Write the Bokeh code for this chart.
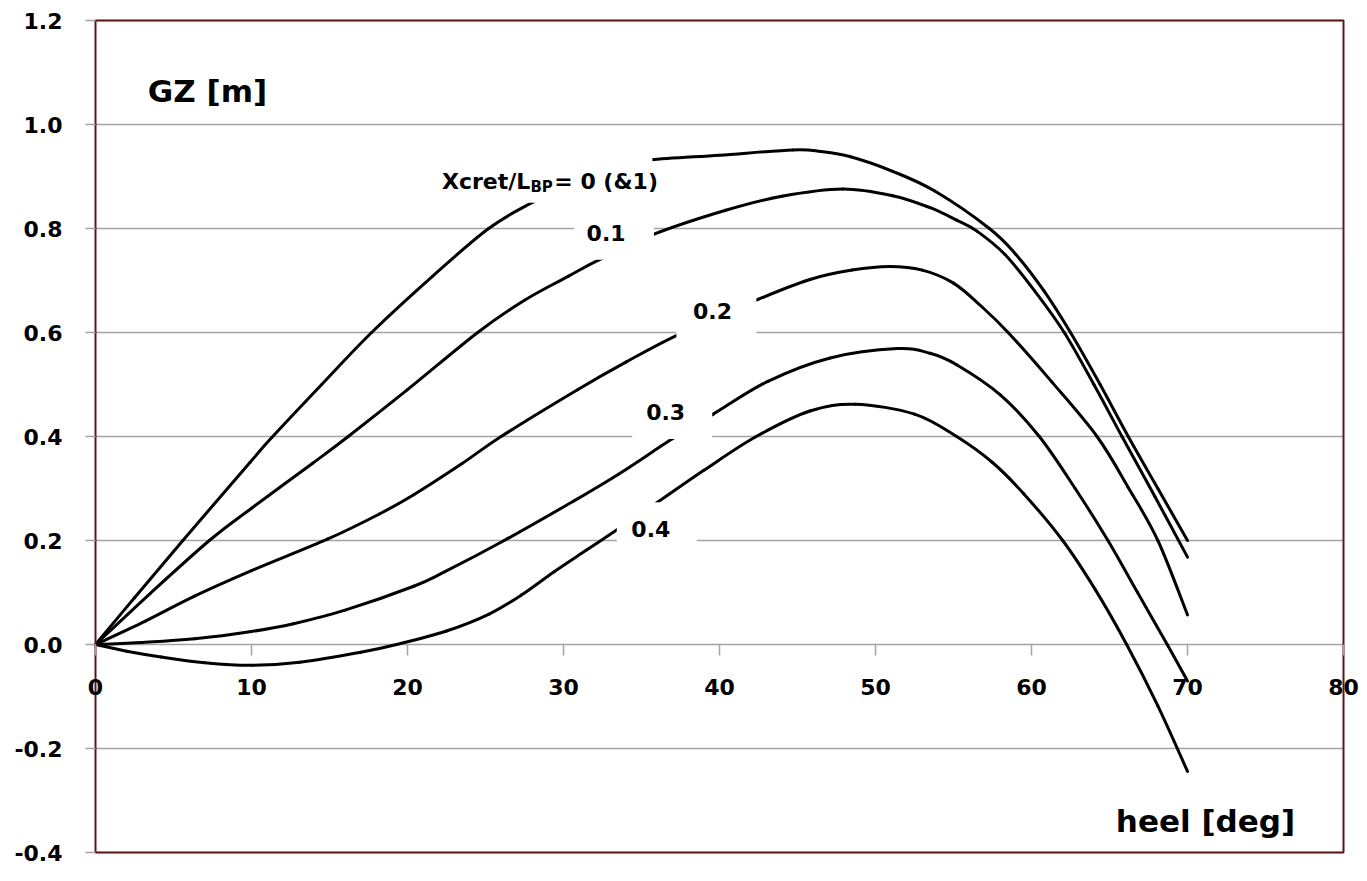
from bokeh.plotting import figure
from bokeh.models import Range1d, FixedTicker, NumeralTickFormatter
from bokeh.embed import file_html
from bokeh.resources import INLINE
from bokeh.core.properties import value

# ---- data ----
heel_00 = [0, 2.5, 5.6, 9.9, 11.3, 14.5, 17.7, 21.6, 25.2, 28.0, 31.0, 33.5, 35.6, 40.0, 44.7, 46.5, 48.4, 51.1, 53.8, 57.3, 59.0, 60.8, 62.5, 64.4, 66.2, 68.1, 70.0]
gz_00 = [0, 0.09, 0.2, 0.35, 0.398, 0.5, 0.6, 0.708, 0.8, 0.85, 0.893, 0.92, 0.932, 0.941, 0.951, 0.948, 0.938, 0.91, 0.872, 0.8, 0.75, 0.68, 0.6, 0.5, 0.4, 0.3, 0.2]

heel_01 = [0, 3.5, 7.3, 10.0, 13.9, 16.2, 20.0, 24.5, 27.5, 30.3, 32.3, 35.8, 40.4, 44.0, 47.9, 51.1, 53.5, 55.2, 56.5, 58.3, 60.2, 62.1, 64.0, 65.8, 67.9, 70.0]
gz_01 = [0, 0.098, 0.2, 0.262, 0.348, 0.4, 0.49, 0.6, 0.662, 0.708, 0.74, 0.789, 0.835, 0.862, 0.876, 0.863, 0.84, 0.816, 0.795, 0.75, 0.68, 0.6, 0.5, 0.4, 0.285, 0.168]

heel_02 = [0, 3.2, 6.35, 10.0, 14.9, 18.2, 20.4, 23.5, 26.0, 30.9, 34.0, 37.3, 42.5, 45.8, 48.5, 50.9, 53.0, 55.0, 56.8, 58.5, 61.3, 64.2, 66.2, 68.1, 70.0]
gz_02 = [0, 0.045, 0.093, 0.142, 0.203, 0.251, 0.288, 0.348, 0.4, 0.49, 0.543, 0.595, 0.664, 0.702, 0.72, 0.727, 0.72, 0.695, 0.65, 0.6, 0.505, 0.4, 0.302, 0.2, 0.057]

heel_03 = [0, 3.0, 6.35, 10.0, 12.7, 16.0, 20.4, 22.4, 26.2, 30.6, 33.5, 37.0, 39.6, 43.1, 47.1, 51.4, 53.5, 55.2, 58.0, 60.5, 62.8, 64.9, 66.8, 68.7, 70.0]
gz_03 = [0, 0.004, 0.011, 0.025, 0.04, 0.066, 0.112, 0.14, 0.2, 0.275, 0.327, 0.396, 0.443, 0.506, 0.551, 0.569, 0.56, 0.538, 0.48, 0.4, 0.3, 0.2, 0.1, 0.0, -0.07]

heel_04 = [0, 2.0, 4.2, 7.0, 10.0, 13.1, 17.0, 19.3, 22.5, 25.2, 27.3, 29.4, 31.5, 33.5, 36.0, 39.0, 42.3, 45.8, 48.7, 52.5, 55.2, 57.5, 59.5, 62.0, 64.1, 66.1, 68.1, 70.0]
gz_04 = [0, -0.013, -0.024, -0.035, -0.040, -0.034, -0.015, 0.0, 0.026, 0.058, 0.095, 0.14, 0.182, 0.222, 0.273, 0.335, 0.399, 0.449, 0.462, 0.443, 0.4, 0.35, 0.29, 0.2, 0.105, 0.0, -0.118, -0.244]

series_heel = [heel_00, heel_01, heel_02, heel_03, heel_04]
series_gz = [gz_00, gz_01, gz_02, gz_03, gz_04]

curve_labels = ["0.1", "0.2", "0.3", "0.4"]
curve_label_x = [32.73, 39.55, 36.55, 35.6]
curve_label_y = [0.792, 0.642, 0.447, 0.2216]
curve_box_x = [33.24, 39.8, 36.97, 35.98]

x_ticks = [0, 10, 20, 30, 40, 50, 60, 70, 80]
y_ticks = [-0.4, -0.2, 0.0, 0.2, 0.4, 0.6, 0.8, 1.0, 1.2]
X_MIN, X_MAX = 0, 80
Y_MIN, Y_MAX = -0.4, 1.2

FONT = value("DejaVu Sans")
GRID = "#a3a3a3"
BORDER = "#5a1818"

# ---- layout: the drawing area covers the whole canvas so no tick label is clipped ----
W, H = 1359, 865
BOX_L, BOX_R, BOX_T, BOX_B = 95, 1343, 20, 852          # pixel box of the chart border
sx = (BOX_R - BOX_L) / (X_MAX - X_MIN)
sy = (BOX_B - BOX_T) / (Y_MAX - Y_MIN)
x_range = Range1d(X_MIN - BOX_L / sx, X_MAX + (W - BOX_R) / sx)
y_range = Range1d(Y_MIN - (H - BOX_B) / sy, Y_MAX + BOX_T / sy)

p = figure(frame_width=W, frame_height=H, min_border=0,
           x_range=x_range, y_range=y_range,
           output_backend="svg", toolbar_location=None,
           background_fill_color="white", border_fill_color="white")
p.outline_line_color = None
p.xgrid.visible = False
p.ygrid.visible = False

# horizontal grid lines across the chart box
p.segment(x0=[X_MIN] * len(y_ticks), x1=[X_MAX] * len(y_ticks), y0=y_ticks, y1=y_ticks,
          line_color=GRID, line_width=1.5)

# y axis on the left edge of the box
p.yaxis.fixed_location = X_MIN
p.yaxis.ticker = FixedTicker(ticks=y_ticks)
p.yaxis.formatter = NumeralTickFormatter(format="0.0")
p.yaxis.axis_line_color = None
p.yaxis.major_tick_line_color = GRID
p.yaxis.major_tick_line_width = 1.5
p.yaxis.major_tick_out = 10
p.yaxis.major_tick_in = 0
p.yaxis.minor_tick_line_color = None
p.yaxis.major_label_standoff = 23
p.yaxis.major_label_text_font = "DejaVu Sans"
p.yaxis.major_label_text_font_style = "bold"
p.yaxis.major_label_text_font_size = "22px"
p.yaxis.major_label_text_color = "black"

# x axis at y = 0
p.xaxis.fixed_location = 0
p.xaxis.ticker = FixedTicker(ticks=x_ticks)
p.xaxis.axis_line_color = None
p.xaxis.major_tick_line_color = GRID
p.xaxis.major_tick_line_width = 1.5
p.xaxis.major_tick_out = 11
p.xaxis.major_tick_in = 0
p.xaxis.minor_tick_line_color = None
p.xaxis.major_label_standoff = 23
p.xaxis.major_label_text_font = "DejaVu Sans"
p.xaxis.major_label_text_font_style = "bold"
p.xaxis.major_label_text_font_size = "22px"
p.xaxis.major_label_text_color = "black"


def smooth_segments(xs, ys):
    """Cubic Bezier pieces through the read points (like a spreadsheet's smoothed line)."""
    n = len(xs)
    out = {k: [] for k in ("x0", "y0", "x1", "y1", "cx0", "cy0", "cx1", "cy1")}
    for i in range(n - 1):
        xa, ya = (xs[i - 1], ys[i - 1]) if i > 0 else (xs[i], ys[i])
        xd, yd = (xs[i + 2], ys[i + 2]) if i + 2 < n else (xs[i + 1], ys[i + 1])
        out["x0"].append(xs[i]); out["y0"].append(ys[i])
        out["x1"].append(xs[i + 1]); out["y1"].append(ys[i + 1])
        out["cx0"].append(xs[i] + (xs[i + 1] - xa) / 6.0)
        out["cy0"].append(ys[i] + (ys[i + 1] - ya) / 6.0)
        out["cx1"].append(xs[i + 1] - (xd - xs[i]) / 6.0)
        out["cy1"].append(ys[i + 1] - (yd - ys[i]) / 6.0)
    return out


for hx, gy in zip(series_heel, series_gz):
    seg = smooth_segments(hx, gy)
    p.bezier(line_color="black", line_width=3, line_cap="round", **seg)

# chart border
p.quad(left=[X_MIN], right=[X_MAX], bottom=[Y_MIN], top=[Y_MAX],
       fill_color=None, line_color=BORDER, line_width=2)

# white boxes behind the in-plot labels
p.rect(x=curve_box_x, y=curve_label_y, width=80, height=54,
       width_units="screen", height_units="screen", fill_color="white", line_color=None)
p.rect(x=[28.55], y=[0.9025], width=223, height=55,
       width_units="screen", height_units="screen", fill_color="white", line_color=None)

p.text(x=curve_label_x, y=curve_label_y, text=curve_labels, text_font=FONT,
       text_font_style="bold", text_font_size="22px", text_align="center",
       text_baseline="middle", text_color="black")

# "Xcret/L_BP= 0 (&1)"
p.text(x=[22.21], y=[0.890], text=["Xcret/L"], text_font=FONT, text_font_style="bold",
       text_font_size="22px", text_align="left", text_baseline="alphabetic", text_color="black")
p.text(x=[27.88], y=[0.879], text=["BP"], text_font=FONT, text_font_style="bold",
       text_font_size="15px", text_align="left", text_baseline="alphabetic", text_color="black")
p.text(x=[29.41], y=[0.890], text=["= 0 (&1)"], text_font=FONT, text_font_style="bold",
       text_font_size="22px", text_align="left", text_baseline="alphabetic", text_color="black")

# axis titles inside the plot
p.text(x=[3.35], y=[1.065], text=["GZ [m]"], text_font=FONT, text_font_style="bold",
       text_font_size="31px", text_align="left", text_baseline="alphabetic", text_color="black")
p.text(x=[76.9], y=[-0.339], text=["heel [deg]"], text_font=FONT, text_font_style="bold",
       text_font_size="31px", text_align="right", text_baseline="alphabetic", text_color="black")

open("out.html", "w").write(file_html(p, INLINE))
